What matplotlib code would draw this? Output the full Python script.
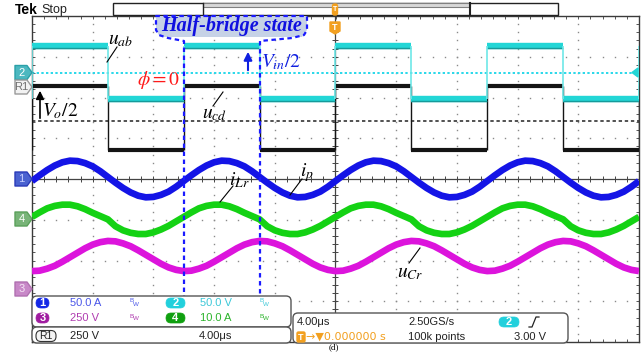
import numpy as np
import matplotlib.pyplot as plt
from matplotlib.patches import FancyBboxPatch, Polygon

plt.rcParams['mathtext.fontset'] = 'stix'

# sample times (us), trigger at 0, 4 us/div
t = np.arange(-20, 20.25, 0.5)

# switching instants (us) of u_ab and u_cd, both legs in phase (phi = 0)
edges = [-20, -15, -10, -5, 0, 5, 10, 15, 20]
uab_hi, uab_lo = 3.26, 1.96      # div
ucd_hi, ucd_lo = 2.29, 0.71      # div

# i_p, ch1 (div)
ip = [-0.05, 0.09, 0.22, 0.33, 0.41, 0.45, 0.44, 0.39, 0.31, 0.19, 0.05, -0.09, -0.22, -0.33, -0.41, -0.45, -0.44, -0.39, -0.31, -0.19,
      -0.05, 0.09, 0.22, 0.33, 0.41, 0.45, 0.44, 0.39, 0.31, 0.19, 0.05, -0.09, -0.22, -0.33, -0.41, -0.45, -0.44, -0.39, -0.31, -0.19,
      -0.05, 0.09, 0.22, 0.33, 0.41, 0.45, 0.44, 0.39, 0.31, 0.19, 0.05, -0.09, -0.22, -0.33, -0.41, -0.45, -0.44, -0.39, -0.31, -0.19,
      -0.05, 0.09, 0.22, 0.33, 0.41, 0.45, 0.44, 0.39, 0.31, 0.19, 0.05, -0.09, -0.22, -0.33, -0.41, -0.45, -0.44, -0.39, -0.31, -0.19,
      -0.05]

# i_Lr, ch4 (div)
ilr = [-0.93, -0.82, -0.72, -0.66, -0.63, -0.63, -0.67, -0.74, -0.83, -0.91, -0.99, -1.16, -1.26, -1.32, -1.35, -1.35, -1.31, -1.24, -1.15, -1.04,
       -0.93, -0.82, -0.72, -0.66, -0.63, -0.63, -0.67, -0.74, -0.83, -0.91, -0.99, -1.16, -1.26, -1.32, -1.35, -1.35, -1.31, -1.24, -1.15, -1.04,
       -0.93, -0.82, -0.72, -0.66, -0.63, -0.63, -0.67, -0.74, -0.83, -0.91, -0.99, -1.16, -1.26, -1.32, -1.35, -1.35, -1.31, -1.24, -1.15, -1.04,
       -0.93, -0.82, -0.72, -0.66, -0.63, -0.63, -0.67, -0.74, -0.83, -0.91, -0.99, -1.16, -1.26, -1.32, -1.35, -1.35, -1.31, -1.24, -1.15, -1.04,
       -0.93]

# u_Cr, ch3 (div)
ucr = [-2.26, -2.25, -2.20, -2.13, -2.03, -1.92, -1.81, -1.70, -1.61, -1.55, -1.52, -1.53, -1.58, -1.65, -1.75, -1.86, -1.97, -2.08, -2.17, -2.23,
       -2.26, -2.25, -2.20, -2.13, -2.03, -1.92, -1.81, -1.70, -1.61, -1.55, -1.52, -1.53, -1.58, -1.65, -1.75, -1.86, -1.97, -2.08, -2.17, -2.23,
       -2.26, -2.25, -2.20, -2.13, -2.03, -1.92, -1.81, -1.70, -1.61, -1.55, -1.52, -1.53, -1.58, -1.65, -1.75, -1.86, -1.97, -2.08, -2.17, -2.23,
       -2.26, -2.25, -2.20, -2.13, -2.03, -1.92, -1.81, -1.70, -1.61, -1.55, -1.52, -1.53, -1.58, -1.65, -1.75, -1.86, -1.97, -2.08, -2.17, -2.23,
       -2.26]

vo_half_level = 1.42   # div, dashed reference for u_cd
ch2_ground = 2.61      # div

C_CYAN = '#22d6d6'
C_BLUE = '#1414e6'
C_GREEN = '#14d214'
C_MAG = '#dc14dc'
C_BLK = '#141414'

fig = plt.figure(figsize=(6.42, 3.52), dpi=100)
fig.patch.set_facecolor('white')

# scope screen
ax = fig.add_axes([32/642, 10/352, 607/642, 326/352])
ax.set_xlim(-20, 20)
ax.set_ylim(-4, 4)
for s in ax.spines.values():
    s.set_color('#3a3a3a')
    s.set_linewidth(1.0)
gx = np.arange(-20, 20.01, 0.8)
gy = np.arange(-4, 4.01, 0.2)
ax.set_xticks(gx)
ax.set_yticks(gy)
ax.tick_params(direction='in', length=2.5, width=0.7, color='#555555', top=True, right=True,
               labelbottom=False, labelleft=False)

# dotted graticule
for xv in range(-16, 17, 4):
    if xv != 0:
        ax.plot(np.full(gy.size, xv), gy, ls='none', marker='s', ms=1.0, mew=0, color='#8a8a8a', zorder=1)
for yv in range(-3, 4):
    if yv != 0:
        ax.plot(gx, np.full(gx.size, yv), ls='none', marker='s', ms=1.0, mew=0, color='#8a8a8a', zorder=1)
# centre cross with minor ticks
ax.axhline(0, color='#444444', lw=0.9, zorder=1)
ax.axvline(0, color='#444444', lw=0.9, zorder=1)
ax.plot(gx, np.zeros(gx.size), ls='none', marker='|', ms=4, mew=0.7, color='#444444', zorder=1)
ax.plot(np.zeros(gy.size), gy, ls='none', marker='_', ms=4, mew=0.7, color='#444444', zorder=1)

ax.axhline(vo_half_level, color='#222222', lw=1.1, dashes=(2.2, 1.8), zorder=2)
ax.axhline(ch2_ground, xmax=0.988, color='#2ad8ea', lw=1.4, dashes=(1.2, 1.2), zorder=2)

# square waves
for i in range(len(edges) - 1):
    hi = i % 2 == 0
    ax.hlines(uab_hi if hi else uab_lo, edges[i], edges[i + 1], color=C_CYAN, lw=4.6, zorder=4)
    ax.hlines((uab_hi if hi else uab_lo) - 0.05, edges[i], edges[i + 1], color='#179a9a', lw=1.0, zorder=4)
    ax.hlines(ucd_hi if hi else ucd_lo, edges[i], edges[i + 1], color=C_BLK, lw=3.0, zorder=3)
ax.vlines(edges, ucd_lo, ucd_hi, color=C_BLK, lw=1.0, zorder=3)
ax.vlines(edges, uab_lo, uab_hi, color='#6ee8e8', lw=1.2, zorder=4)

# resonant waveforms
ax.plot(t, ucr, color=C_MAG, lw=4.8, solid_capstyle='butt', zorder=5)
ax.plot(t, ilr, color=C_GREEN, lw=4.8, solid_capstyle='butt', zorder=5)
ax.plot(t, ip, color=C_BLUE, lw=4.8, solid_capstyle='butt', zorder=5)

# overlay in pixel units for scope chrome and notes
ov = fig.add_axes([0, 0, 1, 1])
ov.set_xlim(0, 642)
ov.set_ylim(352, 0)
ov.axis('off')
SANS = 'Liberation Sans'

ov.text(15, 10, 'Tek', fontsize=10, fontweight='bold', family=SANS, va='center')
ov.text(41, 10, 'Stop', fontsize=9, family=SANS, va='center', color='#222222')

# record bar
ov.add_patch(FancyBboxPatch((113, 3), 445, 12, boxstyle='square,pad=0', fc='white', ec='#222222', lw=1.0))
ov.add_patch(FancyBboxPatch((203, 3), 267, 4, boxstyle='square,pad=0', fc='#d8d8d8', ec='#808080', lw=0.8))
ov.plot([203, 203], [3, 15], color='#222222', lw=1.0)
ov.plot([470, 470], [3, 15], color='#222222', lw=1.5)

# trigger markers
ov.add_patch(FancyBboxPatch((332.5, 4), 5, 11, boxstyle='round,pad=0,rounding_size=2', fc='#f2a020', ec='#f2a020'))
ov.text(335, 9.5, 'T', fontsize=5, color='white', ha='center', va='center', family=SANS, fontweight='bold')
ov.add_patch(Polygon([(330, 22), (340, 22), (340, 31), (335, 34), (330, 31)], closed=True, fc='#f2a020', ec='#f2a020'))
ov.text(335, 27, 'T', fontsize=6.5, color='white', ha='center', va='center', family=SANS, fontweight='bold')


def ch_marker(y, label, fc, ec, tc):
    ov.add_patch(Polygon([(15, y - 7), (27, y - 7), (32, y), (27, y + 7), (15, y + 7)],
                         closed=True, fc=fc, ec=ec, lw=1.0, joinstyle='round'))
    ov.text(21.5, y + 0.5, label, fontsize=8, color=tc, ha='center', va='center', family=SANS)


ch_marker(72.5, '2', '#4cb8c0', '#2aa0a8', 'white')
ch_marker(87, 'R1', '#f2f2f2', '#9a9a9a', '#707070')
ch_marker(179, '1', '#4a62d0', '#2a3ab8', '#c8d0ff')
ch_marker(219, '4', '#78b478', '#5aa05a', 'white')
ch_marker(289, '3', '#c888c8', '#b070b0', '#f4e4f4')
ov.add_patch(Polygon([(632, 72.5), (638, 68), (638, 77)], closed=True, fc=C_CYAN, ec=C_CYAN))

# half-bridge interval
C_DASH = '#1a1aff'
ov.add_patch(Polygon([(156, 16), (307, 16), (307, 30), (302, 37), (160, 37), (156, 30)],
                     closed=True, fc='#c6d2e6', ec='none', zorder=2))
ov.plot([184, 184, 168, 159, 156, 156, 307, 307, 304, 292, 260, 260],
        [300, 41, 38, 35, 30, 16, 16, 30, 35, 38, 41, 300],
        color=C_DASH, lw=1.6, dashes=(2.0, 1.6), zorder=3)
ov.text(232, 26.5, 'Half-bridge state', fontsize=14.5, family='Liberation Serif', style='italic',
        fontweight='bold', color='#1010e0', ha='center', va='center', zorder=4)

# waveform labels
ov.text(108, 44, r'$u_{ab}$', fontsize=14, va='baseline', zorder=6)
ov.plot([117, 107], [47, 62], color='black', lw=0.8, zorder=6)
ov.text(202, 118, r'$u_{cd}$', fontsize=14, va='baseline', zorder=6)
ov.plot([213, 223], [106, 92], color='black', lw=0.8, zorder=6)
ov.text(300, 176, r'$i_{p}$', fontsize=14, va='baseline', zorder=6)
ov.plot([290, 302], [195, 179], color='black', lw=0.8, zorder=6)
ov.text(229, 185, r'$i_{Lr}$', fontsize=14, va='baseline', zorder=6)
ov.plot([220, 233], [202, 186], color='black', lw=0.8, zorder=6)
ov.text(397, 277, r'$u_{Cr}$', fontsize=14, va='baseline', zorder=6)
ov.plot([409, 420], [263, 248], color='black', lw=0.8, zorder=6)

ov.text(137, 80, r'$\phi=0$', fontsize=14, color='#ff1a1a', va='center', zorder=6)
ov.annotate('', xy=(248, 49), xytext=(248, 73),
            arrowprops=dict(arrowstyle='-|>', color='#1020e0', lw=1.5, mutation_scale=12), zorder=6)
ov.text(261, 62, r'$V_{in}/2$', fontsize=14, color='#1020e0', va='center', zorder=6)
ov.annotate('', xy=(40, 88), xytext=(40, 121),
            arrowprops=dict(arrowstyle='-|>', color='black', lw=1.2, mutation_scale=12), zorder=6)
ov.text(42, 111, r'$V_o/2$', fontsize=14, color='black', va='center', zorder=6)

# readout boxes
def box(x, y, w, h):
    ov.add_patch(FancyBboxPatch((x, y), w, h, boxstyle='round,pad=0,rounding_size=5',
                                fc='white', ec='#555555', lw=1.0, zorder=7))


def pill(x, y, w, label, fc):
    ov.add_patch(FancyBboxPatch((x, y - 5), w, 10, boxstyle='round,pad=0,rounding_size=5',
                                fc=fc, ec=fc, lw=0.5, zorder=8))
    ov.text(x + w / 2, y + 0.3, label, fontsize=8, color='white', ha='center', va='center',
            family=SANS, fontweight='bold', zorder=9)


def bw(x, y, c):
    ov.text(x, y - 2, 'B', fontsize=4.5, color=c, family=SANS, va='center', zorder=9)
    ov.text(x + 3, y + 1, 'W', fontsize=4.5, color=c, family=SANS, va='center', zorder=9)


box(293, 313, 275, 30)
box(32, 296, 259, 31)
box(32, 327, 259, 16)

pill(36, 303, 13, '1', '#1428e6')
ov.text(70, 303, '50.0 A', fontsize=8, color='#4a56e8', family=SANS, va='center', zorder=9)
bw(130, 303, '#4a56e8')
pill(166, 303, 19, '2', '#22d0dc')
ov.text(200, 303, '50.0 V', fontsize=8, color='#3cc8d8', family=SANS, va='center', zorder=9)
bw(260, 303, '#3cc8d8')
pill(36, 318, 13, '3', '#a01ca0')
ov.text(70, 318, '250 V', fontsize=8, color='#b03cb0', family=SANS, va='center', zorder=9)
bw(130, 318, '#b03cb0')
pill(166, 318, 19, '4', '#10a010')
ov.text(200, 318, '10.0 A', fontsize=8, color='#2cb42c', family=SANS, va='center', zorder=9)
bw(260, 318, '#2cb42c')

ov.add_patch(FancyBboxPatch((36, 330.5), 20, 11, boxstyle='round,pad=0,rounding_size=5',
                            fc='#f4f4f4', ec='#333333', lw=0.8, zorder=8))
ov.text(46, 336.3, 'R1', fontsize=7.5, color='#222222', ha='center', va='center', family=SANS, zorder=9)
ov.text(70, 336, '250 V', fontsize=8, color='#222222', family=SANS, va='center', zorder=9)
ov.text(199, 336, '4.00\u03bcs', fontsize=8, color='#222222', family=SANS, va='center', zorder=9)

ov.text(297, 322, '4.00\u03bcs', fontsize=8, color='#222222', family=SANS, va='center', zorder=9)
ov.text(408, 322, '2.50GS/s', fontsize=8, color='#222222', family=SANS, va='center', zorder=9)
pill(499, 322, 20, '2', '#22d0dc')
ov.plot([529, 532, 536, 539], [327, 327, 317, 317], color='#222222', lw=0.9, zorder=9)
ov.add_patch(FancyBboxPatch((297, 332), 8, 10, boxstyle='round,pad=0,rounding_size=1.5',
                            fc='#f2a020', ec='#f2a020', zorder=8))
ov.text(301, 337.3, 'T', fontsize=6.5, color='white', ha='center', va='center', family=SANS,
        fontweight='bold', zorder=9)
ov.text(306, 337, '\u2192\u25bc0.000000 s', fontsize=8, color='#f2a020', family='DejaVu Sans',
        va='center', zorder=9)
ov.text(408, 337, '100k points', fontsize=8, color='#222222', family=SANS, va='center', zorder=9)
ov.text(514, 337, '3.00 V', fontsize=8, color='#222222', family=SANS, va='center', zorder=9)

# sub-figure tag under the screen
ov.text(334, 351.5, '(d)', fontsize=6.5, family='Liberation Serif', ha='center', va='bottom', zorder=6)

fig.savefig('out.png', dpi=100, facecolor='white')
